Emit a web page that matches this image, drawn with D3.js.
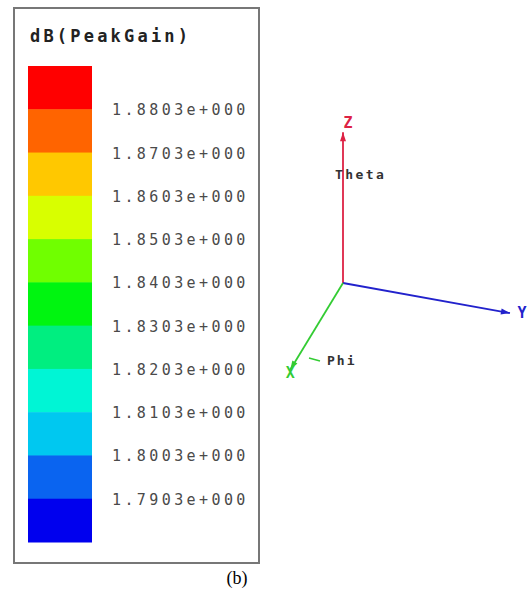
<!DOCTYPE html>
<html><head><meta charset="utf-8">
<script src="https://cdn.jsdelivr.net/npm/d3@7"></script>
<style>body{margin:0;background:#fff;}svg{display:block;}</style>
</head><body>
<svg id="c" width="528" height="590"></svg>
<script>
// ---- data ----
const title = "dB(PeakGain)";
const bandColors = ["#ff0000","#ff6400","#ffc800","#d8ff00","#70ff00","#00f510","#00ee80","#00f5d5","#00c8f0","#0a64f0","#0000ee"];
const levelLabels = ["1.8803e+000","1.8703e+000","1.8603e+000","1.8503e+000","1.8403e+000","1.8303e+000","1.8203e+000","1.8103e+000","1.8003e+000","1.7903e+000"];
const axisNames = ["Z","Y","X"];
const axisDirs = [[0,-1],[0.984,0.177],[-0.52,0.854]]; // projected unit directions
const axisLengths = [1.04, 1.17, 0.70];
const axisColors = ["#dd2244","#2222cc","#33cc33"];
const angleLabels = ["Theta","Phi"];

const svg = d3.select("#c");

// legend frame
svg.append("rect").attr("x",14).attr("y",8).attr("width",245).attr("height",555)
  .attr("fill","#fff").attr("stroke","#777").attr("stroke-width",2);

svg.append("text").attr("x",30).attr("y",42).text(title)
  .attr("font-family","DejaVu Sans Mono").attr("font-weight","bold").attr("font-size",17)
  .attr("letter-spacing",3.2).attr("fill","#222");

const yBand = d3.scaleBand().domain(d3.range(bandColors.length)).range([66,542]).padding(0);
svg.selectAll("rect.band").data(bandColors).join("rect").attr("class","band")
  .attr("x",28).attr("width",64)
  .attr("y",(d,i)=>yBand(i)).attr("height",yBand.bandwidth()+0.5)
  .attr("fill",d=>d);

svg.selectAll("text.lvl").data(levelLabels).join("text").attr("class","lvl")
  .attr("x",112).attr("y",(d,i)=>yBand(i+1)+6)
  .text(d=>d)
  .attr("font-family","DejaVu Sans Mono").attr("font-size",15)
  .attr("letter-spacing",3.4).attr("fill","#4a4a4a");

// coordinate triad
const origin = [343,283];
const L = d3.scaleLinear().domain([0,1]).range([0,145]);
const g = svg.append("g");
axisDirs.forEach((dir,i)=>{
  const len = L(axisLengths[i]);
  const x2 = origin[0]+dir[0]*len, y2 = origin[1]+dir[1]*len;
  g.append("line").attr("x1",origin[0]).attr("y1",origin[1]).attr("x2",x2).attr("y2",y2)
    .attr("stroke",axisColors[i]).attr("stroke-width",1.8);
  // arrowhead
  const ah = 9, aw = 3;
  const px = -dir[1], py = dir[0];
  g.append("path").attr("d",
    `M${x2},${y2} L${x2-dir[0]*ah+px*aw},${y2-dir[1]*ah+py*aw} L${x2-dir[0]*ah-px*aw},${y2-dir[1]*ah-py*aw}Z`)
    .attr("fill",axisColors[i]);
});
// axis names
const nameOff = [[5,-4],[12,5],[0,8]];
axisDirs.forEach((dir,i)=>{
  const len = L(axisLengths[i]);
  g.append("text").attr("x",origin[0]+dir[0]*len+nameOff[i][0]).attr("y",origin[1]+dir[1]*len+nameOff[i][1])
    .text(axisNames[i]).attr("font-family","DejaVu Sans Mono").attr("font-weight","bold")
    .attr("font-size",15).attr("text-anchor","middle").attr("fill",axisColors[i]);
});
g.append("text").attr("x",335).attr("y",179).text(angleLabels[0])
  .attr("font-family","DejaVu Sans Mono").attr("font-weight","bold").attr("font-size",13).attr("letter-spacing",2.4)
  .attr("fill","#333");
g.append("line").attr("x1",309).attr("y1",358).attr("x2",320).attr("y2",361)
  .attr("stroke","#33cc33").attr("stroke-width",1.5);
g.append("text").attr("x",327).attr("y",365).text(angleLabels[1])
  .attr("font-family","DejaVu Sans Mono").attr("font-weight","bold").attr("font-size",13).attr("letter-spacing",2)
  .attr("fill","#333");

svg.append("text").attr("x",237).attr("y",584).text("(b)")
  .attr("font-family","Liberation Serif").attr("font-size",18).attr("text-anchor","middle").attr("fill","#000");
</script>
</body></html>
